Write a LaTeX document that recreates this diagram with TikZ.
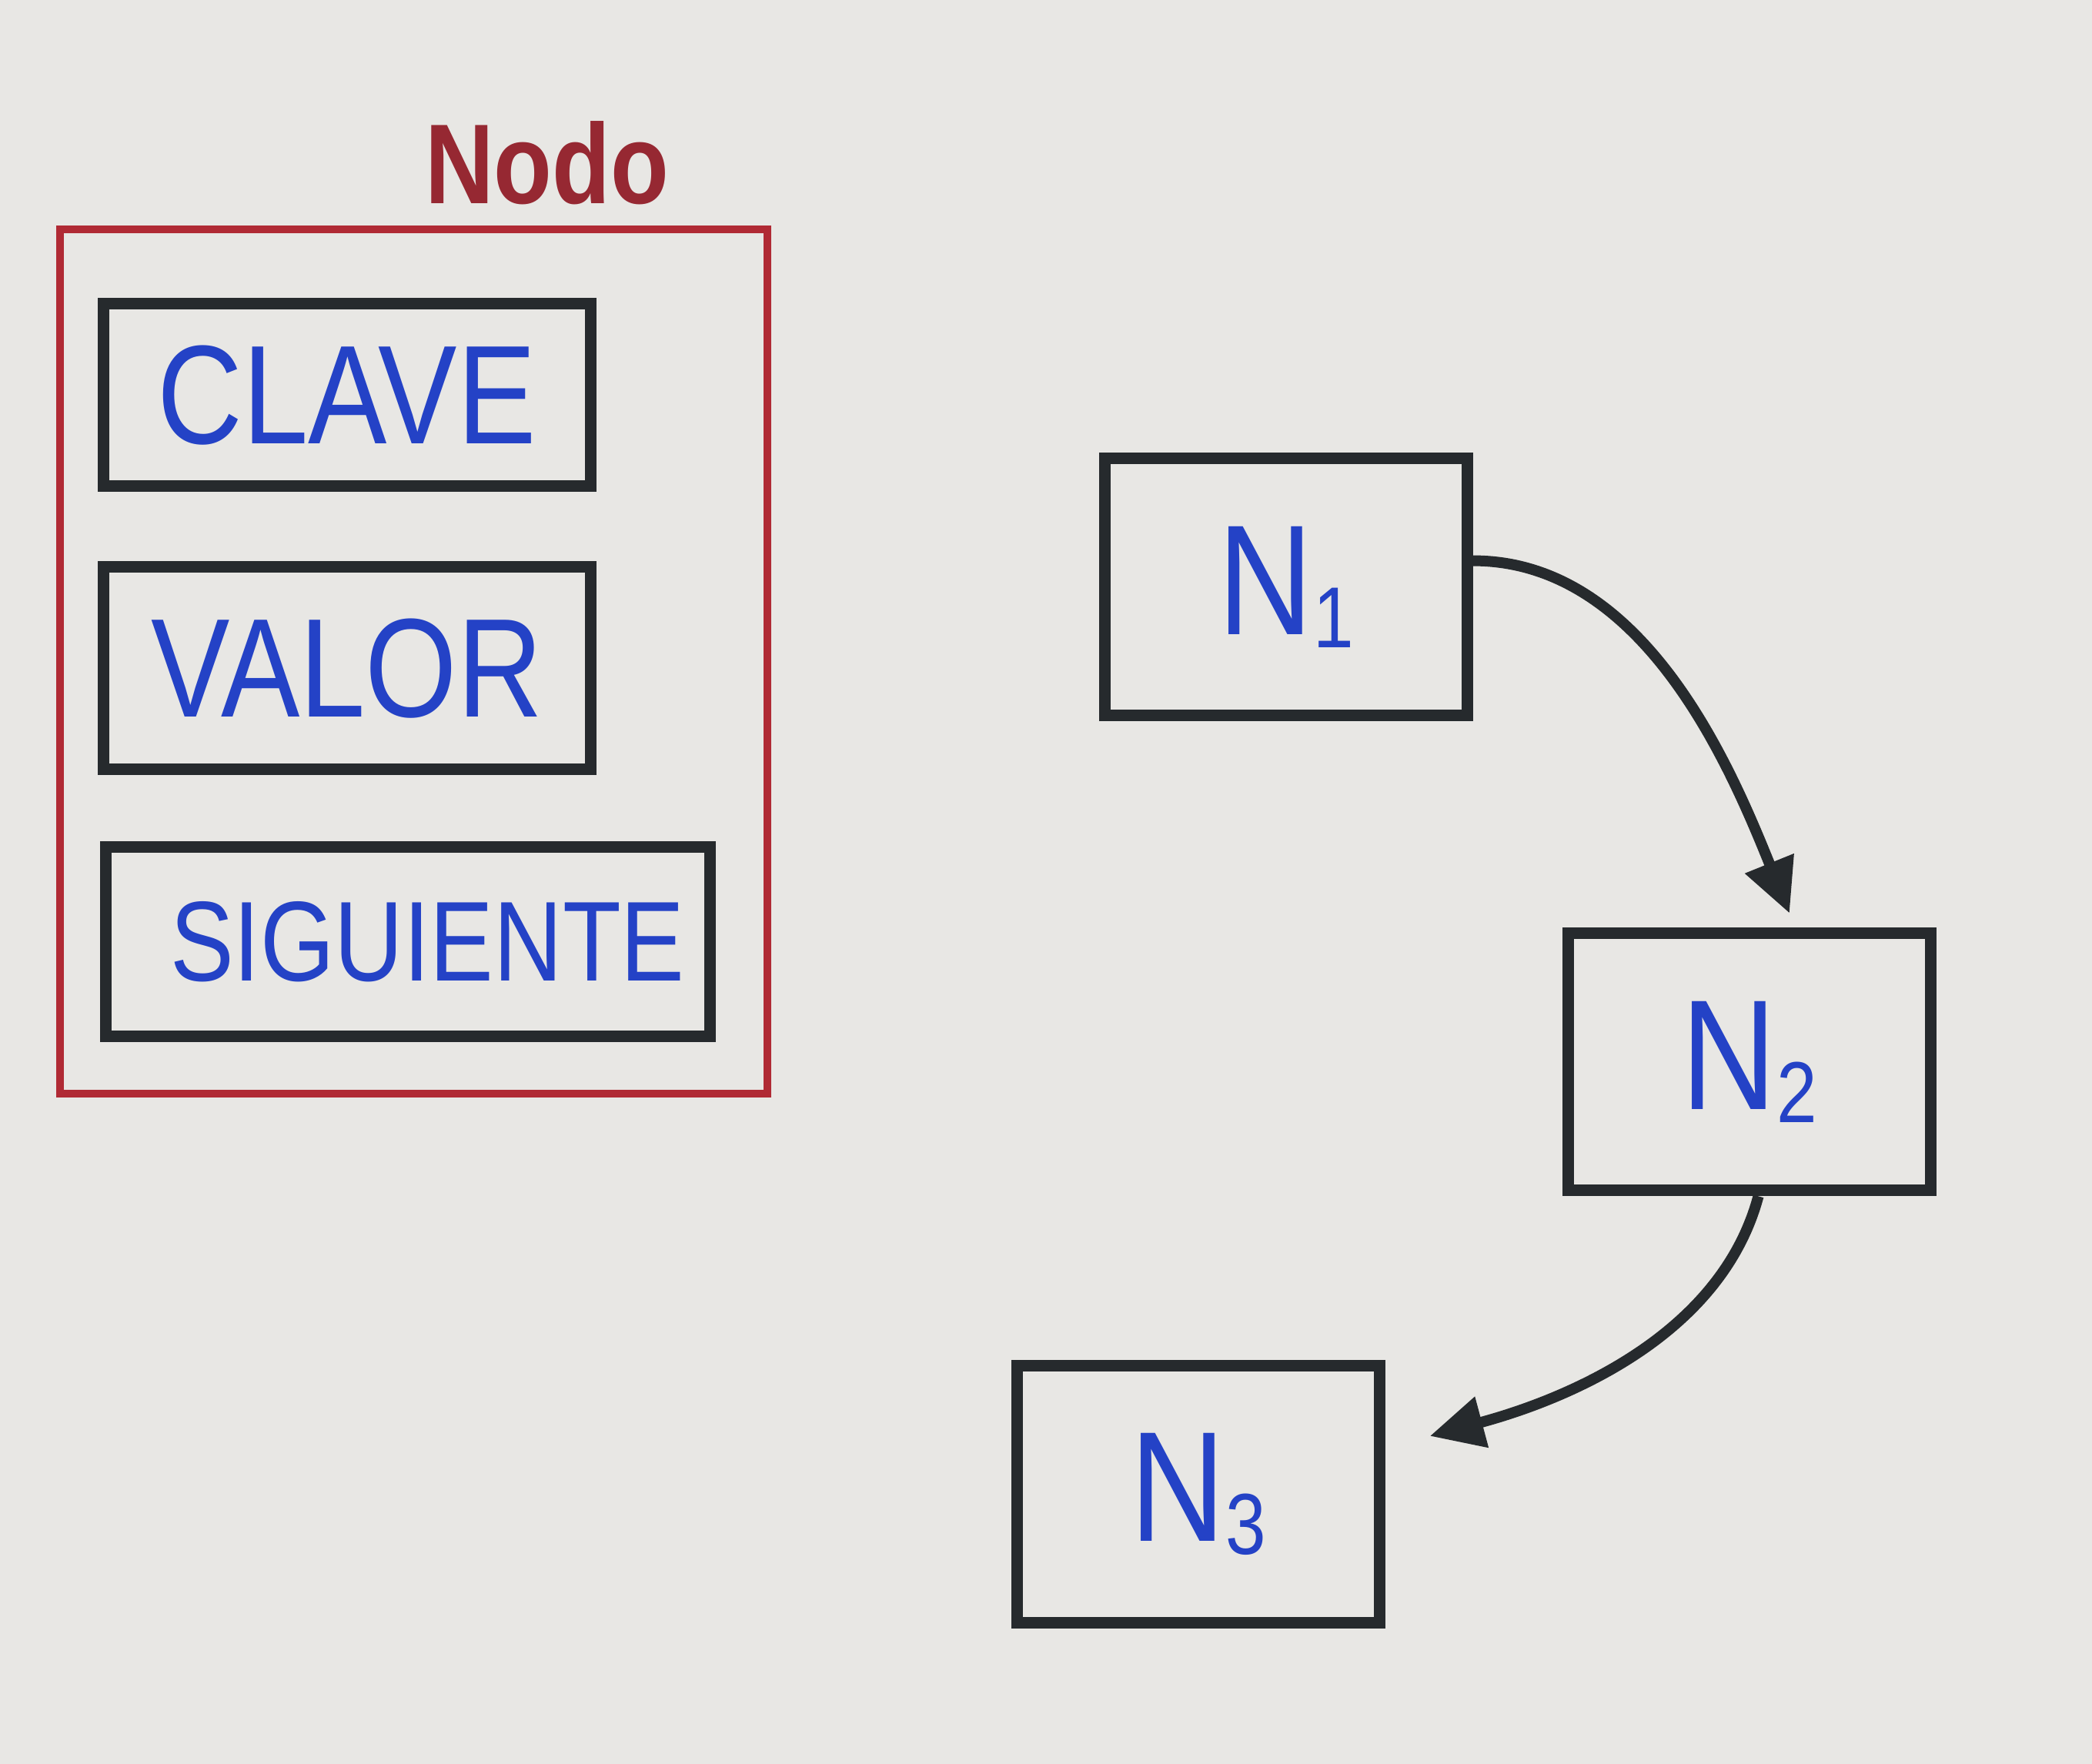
\documentclass[tikz,border=0pt]{standalone}
\usepackage{fontspec}
\usepackage{tikz}
\usetikzlibrary{arrows.meta}

\newfontfamily\mano[FakeStretch=0.84]{Liberation Sans}
\newcommand{\sub}[1]{{\fontsize{32}{32}\selectfont\raisebox{-0.15em}{#1}}}
\definecolor{papel}{RGB}{232,231,228}
\definecolor{tinta}{RGB}{38,42,45}
\definecolor{rojo}{RGB}{176,42,52}
\definecolor{granate}{RGB}{150,40,50}
\definecolor{azul}{RGB}{36,66,198}

\begin{document}
\begin{tikzpicture}[
    x=0.17334mm,
    y=-0.17334mm,
    >={Triangle[length=7mm,width=6.5mm]},
    marco/.style={
        draw=rojo,
        line width=1mm,
        rectangle,
        inner sep=0pt
    },
    campo/.style={
        draw=tinta,
        line width=1.5mm,
        rectangle,
        inner sep=0pt,
        text=azul,
        font={\mano\fontsize{52}{52}\selectfont}
    },
    lista/.style={
        campo,
        minimum width=47.1mm,
        minimum height=33.4mm,
        font={\mano\fontsize{58}{58}\selectfont}
    },
    flecha/.style={
        ->,
        draw=tinta,
        line width=1.4mm
    }
]

\fill[papel] (0,0) rectangle (1568,1322);
\useasboundingbox (0,0) rectangle (1568,1322);

% nodo con sus campos
\node[marco, minimum width=91.9mm, minimum height=112.3mm] (nodo) at (310,496) {};
\node[text=granate, font={\mano\bfseries\fontsize{42}{42}\selectfont}] (titulo) at (410,122) {Nodo};
\node[campo, minimum width=63.3mm, minimum height=23.7mm] (clave) at (260,296) {CLAVE};
\node[campo, minimum width=63.3mm, minimum height=26.3mm] (valor) at (260,501) {VALOR};
\node[campo, minimum width=78.5mm, minimum height=24.6mm,
      font={\mano\fontsize{42}{42}\selectfont}] (sig) at (306,706) {\hspace*{5mm}SIGUIENTE};

% lista enlazada
\node[lista] (n1) at (964,440) {N\sub{1}};
\node[lista] (n2) at (1311,796) {N\sub{2}};
\node[lista] (n3) at (898,1120) {N\sub{3}};

\draw[flecha, shorten >=2mm] (n1.8) to[out=0, in=112, looseness=0.9] ([xshift=6mm]n2.north);
\draw[flecha, shorten >=6mm] ([xshift=1.2mm]n2.south) to[out=-105, in=15, looseness=0.9] ([yshift=6mm]n3.east);

\end{tikzpicture}
\end{document}
